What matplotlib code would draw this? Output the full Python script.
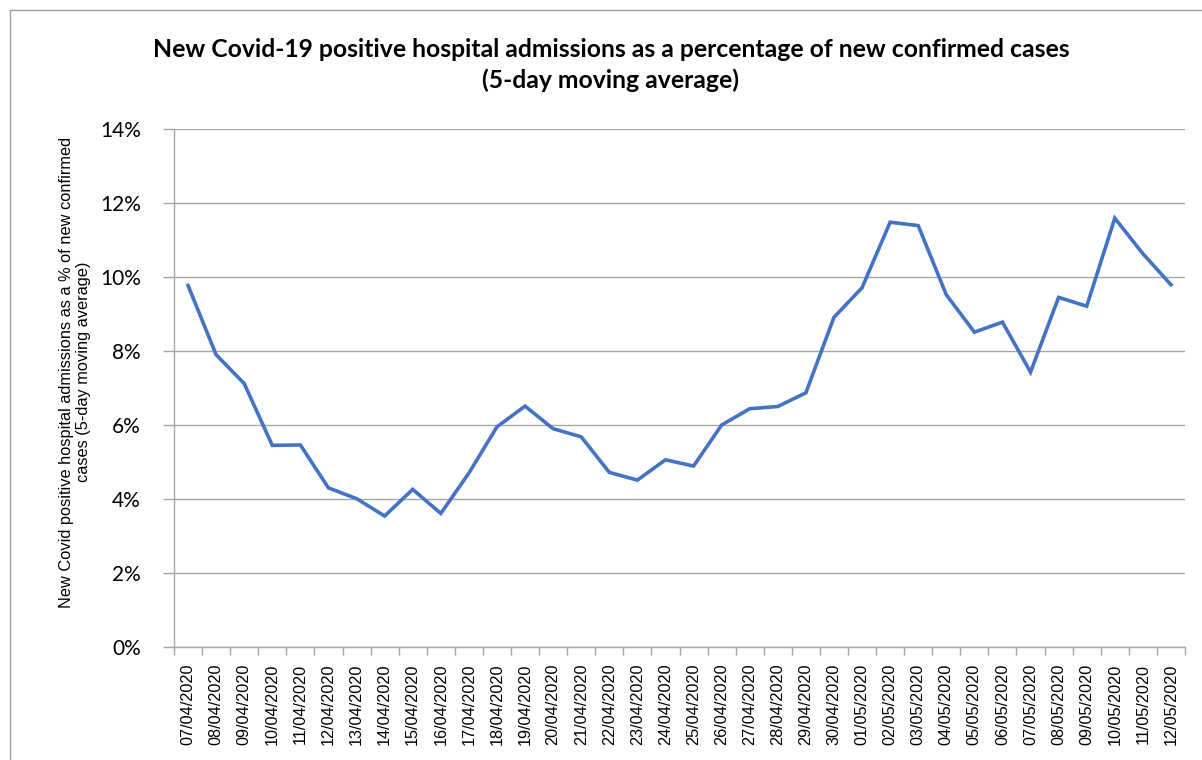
import numpy as np
import matplotlib
matplotlib.use("Agg")
import matplotlib.pyplot as plt
from matplotlib.ticker import FixedLocator, PercentFormatter
from matplotlib.lines import Line2D

# --- data ---
dates = ["07/04/2020", "08/04/2020", "09/04/2020", "10/04/2020", "11/04/2020",
         "12/04/2020", "13/04/2020", "14/04/2020", "15/04/2020", "16/04/2020",
         "17/04/2020", "18/04/2020", "19/04/2020", "20/04/2020", "21/04/2020",
         "22/04/2020", "23/04/2020", "24/04/2020", "25/04/2020", "26/04/2020",
         "27/04/2020", "28/04/2020", "29/04/2020", "30/04/2020", "01/05/2020",
         "02/05/2020", "03/05/2020", "04/05/2020", "05/05/2020", "06/05/2020",
         "07/05/2020", "08/05/2020", "09/05/2020", "10/05/2020", "11/05/2020",
         "12/05/2020"]
pct_admitted = [9.77, 7.90, 7.12, 5.45, 5.46, 4.30, 4.01, 3.54, 4.26, 3.61,
                4.70, 5.95, 6.51, 5.90, 5.68, 4.72, 4.51, 5.06, 4.89, 6.00,
                6.44, 6.50, 6.87, 8.91, 9.71, 11.48, 11.39, 9.52, 8.51, 8.78,
                7.43, 9.45, 9.21, 11.59, 10.63, 9.79]
y_ticks = [0, 2, 4, 6, 8, 10, 12, 14]

W, H = 1202, 760
fig = plt.figure(figsize=(W / 100, H / 100), dpi=100)

# chart area border (left and top edges visible in the reference)
fig.add_artist(Line2D([10 / W, 10 / W], [0, 1 - 10 / H], color="#a0a0a0", lw=1.0,
                      transform=fig.transFigure))
fig.add_artist(Line2D([10 / W, 1], [1 - 10 / H, 1 - 10 / H], color="#a0a0a0", lw=1.0,
                      transform=fig.transFigure))

ax = fig.add_axes([174 / W, 1 - 647 / H, (1185 - 174) / W, (647 - 129) / H])

x = np.arange(len(dates))
ax.plot(x, pct_admitted, color="#4472C4", lw=2.6, solid_joinstyle="miter", zorder=3)

ax.set_xlim(-0.5, len(dates) - 0.5)
ax.set_ylim(0, 14)

# gridlines
ax.yaxis.set_major_locator(FixedLocator(y_ticks))
ax.yaxis.set_major_formatter(PercentFormatter(decimals=0))
ax.grid(axis="y", color="#a6a6a6", lw=1.0)
ax.set_axisbelow(True)

for s in ["top", "right"]:
    ax.spines[s].set_visible(False)
for s in ["left", "bottom"]:
    ax.spines[s].set_color("#a6a6a6")
    ax.spines[s].set_linewidth(1.0)

ax.tick_params(axis="y", length=8, width=1.0, color="#a6a6a6", pad=16,
               labelsize=15, labelcolor="black")
for lbl in ax.get_yticklabels():
    lbl.set_family("Lato")

# category labels between tick marks, Excel style
ax.set_xticks(x)
ax.set_xticklabels(dates, rotation=90, fontsize=11.7, family="Liberation Sans")
ax.set_xticks(np.arange(-0.5, len(dates)), minor=True)
ax.tick_params(axis="x", which="major", length=0, pad=12)
ax.tick_params(axis="x", which="minor", length=6, width=1.0, color="#a6a6a6")

fig.text(611 / W, 1 - 65 / H,
         "New Covid-19 positive hospital admissions as a percentage of new confirmed cases\n"
         "(5-day moving average)",
         ha="center", va="center", fontsize=17.8, fontweight="bold", family="Lato",
         linespacing=1.38)

fig.text(75 / W, 1 - 372 / H,
         "New Covid positive hospital admissions as a % of new confirmed\n"
         "cases (5-day moving average)",
         ha="center", va="center", rotation=90, fontsize=11.8, family="Liberation Sans",
         multialignment="center", linespacing=1.2)

fig.savefig("out.png", dpi=100)
